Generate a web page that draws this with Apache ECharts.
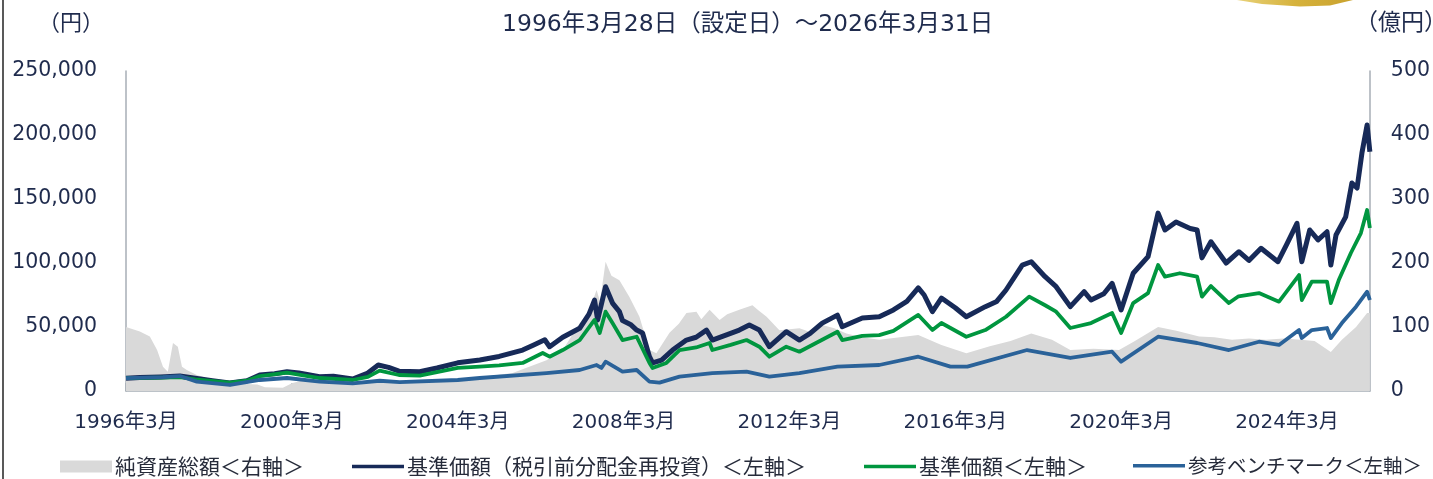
<!DOCTYPE html>
<html><head><meta charset="utf-8">
<script src="https://cdn.jsdelivr.net/npm/echarts@6/dist/echarts.min.js"></script>
<style>html,body{margin:0;padding:0;background:#fff}#c{width:1433px;height:479px}</style>
</head><body><div id="c"></div>
<script>
// month offsets from 1996年3月 (0 = 1996/3, 360 = 2026/3)
const titleText = '1996年3月28日（設定日）～2026年3月31日';
const leftUnit = '（円）';
const rightUnit = '（億円）';
const seriesNames = ['純資産総額＜右軸＞', '基準価額（税引前分配金再投資）＜左軸＞', '基準価額＜左軸＞', '参考ベンチマーク＜左軸＞'];
const leftTicks = [0, 50000, 100000, 150000, 200000, 250000];
const rightTicks = [0, 100, 200, 300, 400, 500];

// 純資産総額 (億円)
const netAssets = [[0,100],[0.3,100],[4,93],[6.9,85],[9,64],[10.7,38],[12.1,30],[13.6,75],[15,69],[16.2,38],[17.6,33],[20.5,25],[25,18],[30,12],[38,10],[40.2,6],[45.4,5],[48,12],[52,18],[60,16],[70,14],[80,13],[90,15],[96,17],[102.4,22],[111.9,28],[121.7,48],[126.4,64],[131.3,106],[134,125],[136.2,158],[137.2,140],[138.8,202],[140.5,180],[142.8,173],[145.7,147],[148.6,116],[151.5,64],[153.5,59],[157.3,91],[160,105],[162.2,122],[165.1,124],[166.5,112],[168.9,127],[171.8,111],[174,120],[177.5,127],[181.3,134],[183,126],[185.4,116],[189.1,95],[194.9,98],[198,92],[201.5,103],[205,98],[208.5,90],[213,84],[218,80],[224,84],[229.3,87.5],[236,72],[243.2,59],[250,70],[256,78],[262,90],[268,80],[273.3,64],[280,66],[287.4,64],[292,78],[298.7,100],[304,94],[310.6,85],[315,84],[320.1,80],[325,82],[329.9,80],[335,82],[340,80],[344,78],[348.7,61],[351.9,80],[356,100],[359.2,122],[360,122]];

// 基準価額（税引前分配金再投資）(円)
const navReinvest = [[0,10000],[4,10500],[10,11000],[15.6,11700],[20,10000],[25,8000],[30,6300],[35,8000],[38.7,12500],[43,13500],[46.6,15000],[50,14000],[56,11200],[60,11500],[65.6,9400],[70,14000],[73,20300],[76,18500],[79,15500],[85,15000],[90,18000],[96,22000],[102.4,24200],[108,27000],[114.8,32000],[118,36000],[121.2,40000],[122.6,34600],[126.4,42000],[131.3,49000],[134,60000],[135.6,71000],[136.5,55500],[138.8,81500],[140.8,68700],[142.8,62000],[143.7,55000],[146,52000],[147.8,47600],[149.5,45300],[151.5,26800],[152.4,21900],[155,24200],[158.2,32000],[162.2,39800],[165,42000],[168,47600],[169.7,39800],[174,44000],[177.5,47600],[180.4,51500],[183.3,47600],[186.2,34600],[191.1,46300],[194.9,39800],[198,45000],[201.5,53000],[205.9,59300],[207.3,50200],[213.1,57000],[218,58000],[222.1,63300],[226,70000],[229.3,80500],[231,75000],[233.4,62000],[236,72600],[240,65000],[243.2,58000],[248.7,65900],[252,70000],[254.7,78900],[259.4,98400],[262,101000],[266,89300],[269.2,81500],[273.3,65900],[277.3,77600],[279.3,71100],[283,76000],[285.4,84100],[288,63300],[291.5,92000],[295.8,105000],[298.7,139000],[300.7,125800],[303.9,132000],[308,127000],[310,125800],[311.4,104000],[314,116600],[318.4,100000],[322.1,108800],[325,102000],[328.5,111500],[333.4,101000],[336,115000],[338.9,131000],[340.3,101000],[342.6,125800],[345,118000],[347.6,124400],[348.7,98400],[350.2,121900],[353,136000],[354.8,162500],[356.3,158600],[357.7,185900],[359.2,207800],[360,187000]];

// 基準価額 (円)
const nav = [[0,10000],[10,10500],[15.6,10900],[20,9000],[30,6500],[35,8000],[38.7,11700],[46.6,14300],[50,12800],[56,10150],[65.6,8600],[70,11000],[73.4,15900],[79,12500],[85,12000],[96,18000],[102.4,19000],[108,20000],[114.8,21900],[120.6,29700],[122.6,26800],[126.4,32000],[131.3,39800],[135.6,55500],[137.1,45300],[138.8,62000],[140.8,53100],[143.7,39800],[147.8,42400],[151.5,21900],[152.4,18000],[156.4,21900],[160.2,32000],[165,34000],[168.9,37500],[169.7,32000],[175,36000],[179.6,39800],[183.3,34600],[186.2,26800],[191.1,34600],[194.9,30700],[201.5,40000],[205.9,46300],[207.3,39800],[213.1,43000],[218,43700],[222.1,47000],[229.3,59400],[233.4,47600],[236,53100],[243.2,42400],[248.7,47600],[254.7,58000],[261.4,73700],[266,67000],[269.2,62000],[273.3,49200],[279.3,53100],[285.4,60900],[288,45300],[291.5,68700],[295.8,76500],[298.7,98400],[300.7,89300],[305,92000],[310,89300],[311.4,73700],[314,82000],[319.2,68700],[322,74000],[327.9,76500],[333.7,69800],[336,78000],[339.5,90600],[340.3,71000],[343.2,85400],[347.6,85400],[348.7,68700],[351,86700],[354.5,107800],[357.4,123400],[359.2,141400],[360,127300]];

// 参考ベンチマーク (円)
const benchmark = [[0,10000],[10.7,10900],[15.6,11700],[20.5,7300],[30.1,4700],[38.7,8600],[46.6,10150],[56.1,7300],[65.6,6000],[73.4,8000],[79.2,7000],[96,8600],[102.4,10150],[121.7,14000],[131.3,16400],[136.2,20300],[137.6,18000],[138.8,22900],[143.7,15100],[147.8,16400],[151.5,7300],[154.4,6500],[160.2,11200],[169.7,14000],[179.6,15100],[186.2,11200],[194.9,14000],[205.9,19000],[218,20300],[229.3,26800],[238.6,19000],[243.5,19000],[260.8,32000],[273.3,25800],[285.4,30700],[288,22900],[298.7,42400],[310,37500],[319.2,32000],[327.9,38500],[333.7,36000],[339.5,47600],[340.3,41400],[343.2,47600],[347.6,49200],[348.7,41400],[351.9,53100],[356,65900],[359.2,77600],[360,71100]];

const textColor = '#1f2b4d';
const axisColor = '#a7aeb6';
const numFont = '"DejaVu Sans", "Noto Sans CJK JP", sans-serif';
const cjkFont = '"Noto Sans CJK JP", sans-serif';

const chart = echarts.init(document.getElementById('c'), null, {renderer: 'canvas'});
const legendPos = [55, 347, 859, 1128];
const legendColors = ['#d9d9d9', '#172a58', '#00963f', '#2a6299'];
const legendFont = [21, 21, 21, 19.5];

chart.setOption({
  animation: false,
  title: {text: titleText, left: 497, top: 8,
    textStyle: {fontFamily: numFont, fontSize: 23.5, fontWeight: 'normal', color: textColor}},
  grid: {left: 126, right: 61, top: 71, bottom: 88},
  legend: seriesNames.map((n, i) => ({
    data: [n], left: legendPos[i], top: 451, itemGap: 0,
    itemWidth: 52, itemHeight: i === 0 ? 12 : 3.5, icon: 'rect',
    itemStyle: {color: legendColors[i]},
    textStyle: {fontFamily: cjkFont, fontSize: legendFont[i], color: '#262b3a', padding: [0, 0, 0, -2]}
  })),
  xAxis: {type: 'value', min: 0, max: 360, interval: 48,
    axisLine: {show: true, lineStyle: {color: axisColor, width: 1.5}},
    axisTick: {show: true, inside: true, length: 8, lineStyle: {color: axisColor, width: 1.5}},
    splitLine: {show: false},
    axisLabel: {margin: 22, fontFamily: numFont, fontSize: 20, color: textColor, showMaxLabel: false,
      formatter: v => (v % 48 === 0 && v < 360) ? (1996 + v / 12) + '年3月' : ''}
  },
  yAxis: [
    {type: 'value', min: leftTicks[0], max: leftTicks[leftTicks.length - 1], interval: leftTicks[1] - leftTicks[0],
      axisLine: {show: true, lineStyle: {color: axisColor, width: 1.5}}, axisTick: {show: false}, splitLine: {show: false},
      axisLabel: {margin: 29, fontFamily: numFont, fontSize: 20.5, color: textColor,
        formatter: v => v.toLocaleString('en-US')}},
    {type: 'value', min: rightTicks[0], max: rightTicks[rightTicks.length - 1], interval: rightTicks[1] - rightTicks[0],
      axisLine: {show: true, lineStyle: {color: axisColor, width: 1.5}}, axisTick: {show: false}, splitLine: {show: false},
      axisLabel: {margin: 21, fontFamily: numFont, fontSize: 20.5, color: textColor}}
  ],
  series: [
    {name: seriesNames[0], type: 'line', yAxisIndex: 1, data: netAssets, symbol: 'none',
      lineStyle: {width: 0, color: '#d9d9d9'}, itemStyle: {color: '#d9d9d9'},
      areaStyle: {color: '#d9d9d9', opacity: 1}, z: 1},
    {name: seriesNames[1], type: 'line', yAxisIndex: 0, data: navReinvest, symbol: 'none',
      lineStyle: {width: 5, color: legendColors[1], join: 'round'}, itemStyle: {color: legendColors[1]}, z: 3},
    {name: seriesNames[2], type: 'line', yAxisIndex: 0, data: nav, symbol: 'none',
      lineStyle: {width: 3.8, color: legendColors[2], join: 'round'}, itemStyle: {color: legendColors[2]}, z: 4},
    {name: seriesNames[3], type: 'line', yAxisIndex: 0, data: benchmark, symbol: 'none',
      lineStyle: {width: 3.8, color: legendColors[3], join: 'round'}, itemStyle: {color: legendColors[3]}, z: 5}
  ],
  graphic: [
    {type: 'text', left: 38, top: 11, style: {text: leftUnit, font: '22px ' + cjkFont, fill: textColor}},
    {type: 'text', left: 1355, top: 10, style: {text: rightUnit, font: '23px ' + cjkFont, fill: textColor}},
    {type: 'line', shape: {x1: 3, y1: 0, x2: 3, y2: 479}, style: {stroke: '#222', lineWidth: 1.5}},
    {type: 'polygon', shape: {points: [[1237, 0], [1262, 4], [1300, 6.5], [1330, 5.5], [1353, 0]]},
      style: {fill: new echarts.graphic.LinearGradient(0, 0, 1, 0, [
        {offset: 0, color: '#e8d27a'}, {offset: 0.5, color: '#d6b23c'}, {offset: 1, color: '#c9a22e'}])}}
  ]
});
</script></body></html>
